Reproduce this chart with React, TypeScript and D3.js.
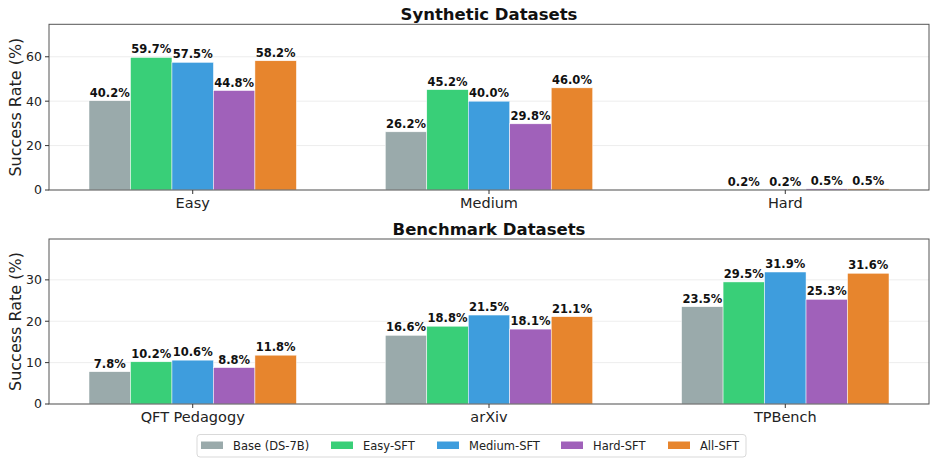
import * as d3 from "d3";

const seriesNames = ["Base (DS-7B)", "Easy-SFT", "Medium-SFT", "Hard-SFT", "All-SFT"];
const seriesColors = ["#95a5a6", "#2ecc71", "#3498db", "#9b59b6", "#e67e22"];

const syntheticCategories = ["Easy", "Medium", "Hard"];
const syntheticBase = [40.2, 26.2, 0];
const syntheticEasy = [59.7, 45.2, 0.2];
const syntheticMedium = [57.5, 40.0, 0.2];
const syntheticHard = [44.8, 29.8, 0.5];
const syntheticAll = [58.2, 46.0, 0.5];

const benchmarkCategories = ["QFT Pedagogy", "arXiv", "TPBench"];
const benchmarkBase = [7.8, 16.6, 23.5];
const benchmarkEasy = [10.2, 18.8, 29.5];
const benchmarkMedium = [10.6, 21.5, 31.9];
const benchmarkHard = [8.8, 18.1, 25.3];
const benchmarkAll = [11.8, 21.1, 31.6];

const syntheticTicks = [0, 20, 40, 60];
const benchmarkTicks = [0, 10, 20, 30];

const FONT = "DejaVu Sans, sans-serif";
const W = 936;
const H = 464;
const left = 49;
const right = 929;
const barW = 0.14;

interface PanelProps {
  title: string;
  categories: string[];
  values: number[][];
  ticks: number[];
  top: number;
  bottom: number;
}

function Panel({ title, categories, values, ticks, top, bottom }: PanelProps) {
  const x = d3.scaleLinear().domain([-0.485, 2.485]).range([left, right]);
  const maxV = d3.max(values.flat()) || 1;
  const y = d3.scaleLinear().domain([0, maxV * 1.25]).range([bottom, top]);

  return (
    <g>
      {/* grid */}
      {ticks.map((t) => (
        <line key={"g" + t} x1={left} x2={right} y1={y(t)} y2={y(t)} stroke="#e8e8e8" strokeWidth={0.8} />
      ))}
      {/* bars */}
      {values.map((series, si) =>
        series.map((v, ci) => {
          const x0 = x(ci + (si - 2) * barW - barW / 2);
          const x1 = x(ci + (si - 2) * barW + barW / 2);
          return (
            <g key={`b${si}-${ci}`}>
              <rect
                x={x0}
                y={y(v)}
                width={x1 - x0}
                height={y(0) - y(v)}
                fill={seriesColors[si]}
                fillOpacity={0.95}
                stroke="white"
                strokeWidth={0.5}
              />
              {v > 0 && (
                <text
                  x={(x0 + x1) / 2}
                  y={y(v) - 4}
                  textAnchor="middle"
                  fontFamily={FONT}
                  fontSize={11.5}
                  fontWeight="bold"
                  fill="#111"
                >
                  {v.toFixed(1)}%
                </text>
              )}
            </g>
          );
        })
      )}
      {/* spines */}
      <rect x={left} y={top} width={right - left} height={bottom - top} fill="none" stroke="#555" strokeWidth={1} />
      {/* y ticks */}
      {ticks.map((t) => (
        <g key={"t" + t}>
          <line x1={left - 4} x2={left} y1={y(t)} y2={y(t)} stroke="#333" />
          <text x={left - 7} y={y(t)} dy="0.35em" textAnchor="end" fontFamily={FONT} fontSize={12.5} fill="#222">
            {t}
          </text>
        </g>
      ))}
      {/* x ticks */}
      {categories.map((c, i) => (
        <g key={c}>
          <line x1={x(i)} x2={x(i)} y1={bottom} y2={bottom + 4} stroke="#333" />
          <text x={x(i)} y={bottom + 18} textAnchor="middle" fontFamily={FONT} fontSize={14.5} fill="#222">
            {c}
          </text>
        </g>
      ))}
      <text
        transform={`translate(15,${(top + bottom) / 2}) rotate(-90)`}
        textAnchor="middle"
        dy="0.35em"
        fontFamily={FONT}
        fontSize={16}
        fill="#222"
      >
        Success Rate (%)
      </text>
      <text x={(left + right) / 2} y={top - 4.5} textAnchor="middle" fontFamily={FONT} fontSize={16.5} fontWeight="bold" fill="#111">
        {title}
      </text>
    </g>
  );
}

export default function App() {
  const synthetic = [syntheticBase, syntheticEasy, syntheticMedium, syntheticHard, syntheticAll];
  const benchmark = [benchmarkBase, benchmarkEasy, benchmarkMedium, benchmarkHard, benchmarkAll];
  const legendX = [201, 331, 437, 561, 668];

  return (
    <svg width={W} height={H} style={{ position: "absolute", left: 0, top: 0, background: "white" }}>
      <Panel title="Synthetic Datasets" categories={syntheticCategories} values={synthetic} ticks={syntheticTicks} top={24.3} bottom={190} />
      <Panel title="Benchmark Datasets" categories={benchmarkCategories} values={benchmark} ticks={benchmarkTicks} top={239} bottom={404} />
      <g>
        <rect x={197} y={434.5} width={549} height={22.5} rx={3} fill="white" stroke="#d9d9d9" strokeWidth={1} />
        {seriesNames.map((n, i) => (
          <g key={n}>
            <rect x={legendX[i]} y={441.5} width={22} height={7.5} fill={seriesColors[i]} fillOpacity={0.95} />
            <text x={legendX[i] + 32} y={445.5} dy="0.35em" fontFamily={FONT} fontSize={11.5} fill="#222">
              {n}
            </text>
          </g>
        ))}
      </g>
    </svg>
  );
}
